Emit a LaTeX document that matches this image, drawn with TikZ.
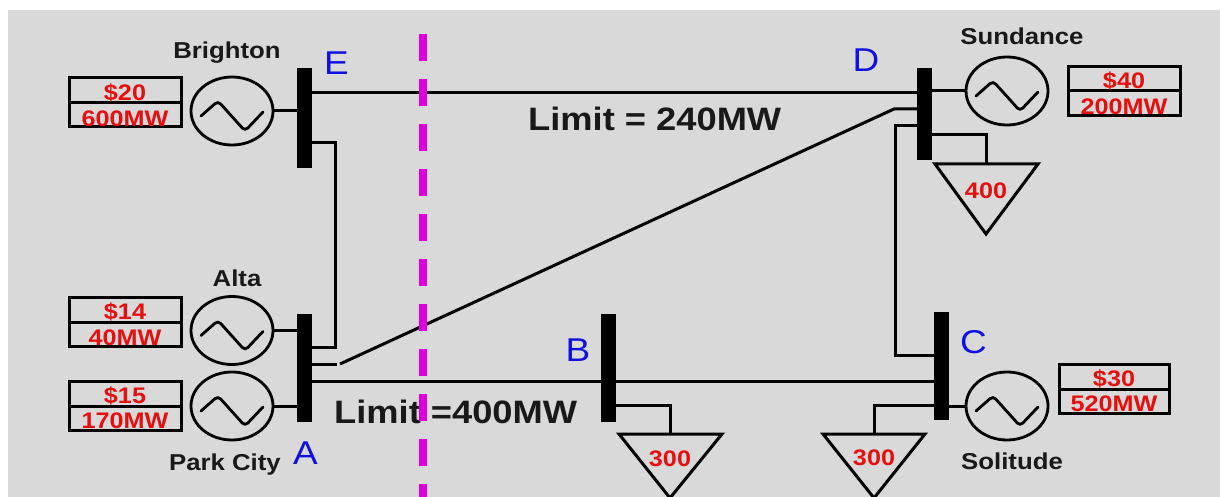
\documentclass[tikz,border=0pt]{standalone}
\usepackage{fontspec}
\usetikzlibrary{shapes.geometric}
\setmainfont{Liberation Sans}
\newfontfamily\stretchfont[FakeStretch=1.12]{Liberation Sans}
\newcommand{\sizedtext}[1]{\fontsize{#1}{#1}\selectfont}
\definecolor{panelgray}{HTML}{D9D9D9}
\definecolor{pricered}{HTML}{E60F0F}
\definecolor{busblue}{HTML}{1010E0}
\definecolor{cutmagenta}{HTML}{DD00DD}
\tikzset{
  bus/.style={draw=none,fill=black,minimum width=15pt,inner sep=0pt,outer sep=0pt},
  gen/.style={ellipse,draw=black,line width=2.8pt,minimum width=82pt,minimum height=68pt,inner sep=0pt,outer sep=0pt},
  offer/.style={draw=black,line width=3pt,minimum width=112pt,minimum height=49pt,inner sep=0pt,outer sep=0pt},
  wire/.style={draw=black,line width=3pt,line join=miter},
  sinewave/.style={draw=black,line width=2.8pt,line cap=round,rounded corners=4pt},
  load/.style={draw=black,line width=3pt,line join=miter},
  plantname/.style={font=\stretchfont\bfseries\sizedtext{23},text=black!90,anchor=base,inner sep=0pt,yshift=-1pt},
  redtext/.style={font=\stretchfont\bfseries\sizedtext{22.5},text=pricered,anchor=base,inner sep=0pt,yshift=-0.7pt},
  limittext/.style={font=\stretchfont\bfseries\sizedtext{32.4},text=black!90,anchor=base west,inner sep=0pt,yshift=-1pt},
  busname/.style={font=\stretchfont\sizedtext{33},text=busblue,anchor=base,inner sep=0pt,yshift=-1pt},
  cut/.style={draw=cutmagenta,line width=7.5pt,dash pattern=on 27pt off 18pt}
}
\newcommand{\sinein}[2]{\draw[sinewave] (#1-31,#2+5) -- (#1-14,#2-10) -- (#1+13,#2+20) -- (#1+31,#2+1);}
\begin{document}
\begin{tikzpicture}[x=1pt,y=-1pt]
\useasboundingbox (0,0) rectangle (1220,497);
\fill[panelgray] (8,10) rectangle (1220,497);

% buses
\node[bus,minimum height=100pt] (busE) at (304,118) {};
\node[bus,minimum height=108pt] (busA) at (304,368) {};
\node[bus,minimum height=108pt] (busB) at (608.5,368) {};
\node[bus,minimum height=108pt] (busC) at (941.5,366) {};
\node[bus,minimum height=92pt] (busD) at (924.5,114) {};

% generators
\node[gen] (genE) at (232,111) {};
\node[gen] (genAlta) at (232,330.5) {};
\node[gen] (genPark) at (232,406) {};
\node[gen] (genD) at (1007,91) {};
\node[gen] (genC) at (1007,406) {};
\sinein{232}{111}
\sinein{232}{330.5}
\sinein{232}{406}
\sinein{1007}{91}
\sinein{1007}{406}

% offer boxes
\node[offer] (boxE) at (125,102.5) {};
\node[offer] (boxAlta) at (125,322) {};
\node[offer] (boxPark) at (125,406) {};
\node[offer] (boxD) at (1124,91) {};
\node[offer,minimum width=110pt] (boxC) at (1114,389) {};
\foreach \b in {boxE,boxAlta,boxPark,boxD,boxC}
  \draw[wire] ([xshift=-1pt]\b.west) -- ([xshift=1pt]\b.east);

\node[redtext] (pE) at (125,100) {\$20};
\node[redtext] (qE) at (125,125.5) {600MW};
\node[redtext] (pAlta) at (125,319) {\$14};
\node[redtext] (qAlta) at (125,344.5) {40MW};
\node[redtext] (pPark) at (125,403) {\$15};
\node[redtext] (qPark) at (125,428) {170MW};
\node[redtext] (pD) at (1124,88) {\$40};
\node[redtext] (qD) at (1124,113.5) {200MW};
\node[redtext] (pC) at (1114,386) {\$30};
\node[redtext] (qC) at (1114,411) {520MW};

% loads
\draw[load] (935,164) coordinate (loadDl) -- (986,164) coordinate (loadD) -- (1038,164) -- (986,234) -- cycle;
\draw[load] (619,434) coordinate (loadBl) -- (670,434) coordinate (loadB) -- (722,434) -- (670,498) -- cycle;
\draw[load] (823,434) coordinate (loadCl) -- (874,434) coordinate (loadC) -- (925,434) -- (874,498) -- cycle;
\node[redtext] (qloadD) at (986,198) {400};
\node[redtext] (qloadB) at (670,466) {300};
\node[redtext] (qloadC) at (874,465) {300};

% stubs
\draw[wire] (genE.east) -- (genE.east -| busE.west);
\draw[wire] (genAlta.east) -- (genAlta.east -| busA.west);
\draw[wire] (genPark.east) -- (genPark.east -| busA.west);
\draw[wire] (genD.west) -- (genD.west -| busD.east);
\draw[wire] (genC.west) -- (genC.west -| busC.east);

% lines
\coordinate (eTop) at (312,93);
\draw[wire] (eTop) -- (eTop -| busD.west);
\coordinate (eLow) at (312,143);
\coordinate (aUp) at (311,347);
\draw[wire] (eLow) -- (335,143) coordinate (eCorner) -- (eCorner |- aUp) -- (aUp);
\coordinate (aMid) at (311,364);
\coordinate (aKink) at (337,364);
\draw[wire] (aMid) -- (aKink);
\coordinate (aKink2) at (340,364);
\coordinate (dKink) at (894,109);
\draw[wire] (aKink2) -- (dKink) -- (dKink -| busD.west);
\coordinate (aLow) at (311,381);
\draw[wire] (aLow) -- (aLow -| busC.west);
\coordinate (dLow) at (917,126);
\coordinate (cUp) at (934,355);
\draw[wire] (dLow) -- (895,126) coordinate (dCorner) -- (dCorner |- cUp) -- (cUp);
\coordinate (dLoadStart) at (932,135);
\draw[wire] (dLoadStart) -- (dLoadStart -| loadD) -- (loadD);
\coordinate (bLoadStart) at (616,405);
\draw[wire] (bLoadStart) -- (bLoadStart -| loadB) -- (loadB);
\coordinate (cLoadStart) at (934,405);
\draw[wire] (cLoadStart) -- (cLoadStart -| loadC) -- (loadC);

% labels
\node[plantname] (nBrighton) at (227,58) {Brighton};
\node[plantname] (nAlta) at (237,285) {Alta};
\node[plantname] (nPark) at (225,469) {Park City};
\node[plantname] (nSundance) at (1022,44) {Sundance};
\node[plantname] (nSolitude) at (1012,468) {Solitude};
\node[busname] (lE) at (336.5,74) {E};
\node[busname] (lA) at (305.5,463) {A};
\node[busname] (lB) at (578,360) {B};
\node[busname] (lC) at (973.5,352) {C};
\node[busname] (lD) at (866,71) {D};
\node[limittext] (lim1) at (528,130) {Limit = 240MW};
\node[limittext] (lim2) at (334,422) {Limit =400MW};

% cut line
\coordinate (cutTop) at (423,34);
\coordinate (cutBot) at (423,497);
\draw[cut] (cutTop) -- (cutBot);
\end{tikzpicture}
\end{document}
